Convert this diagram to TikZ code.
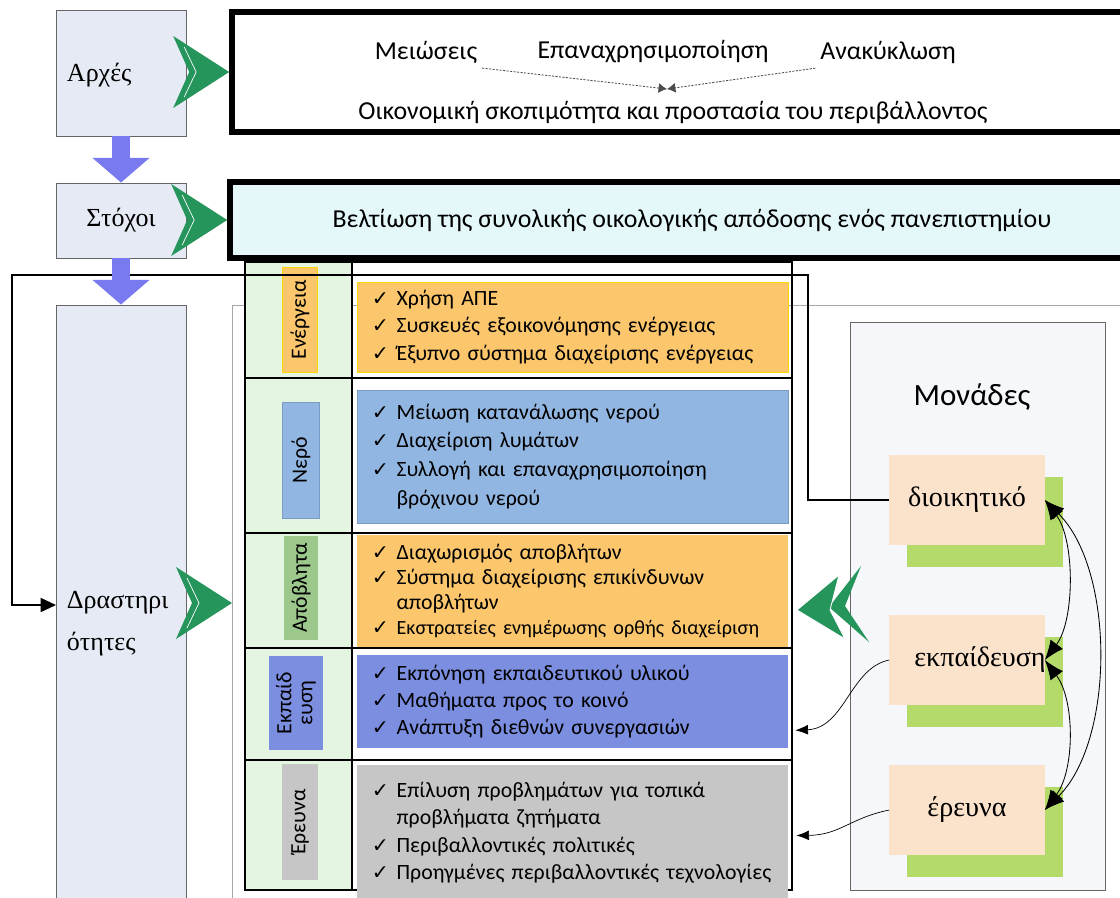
\documentclass[tikz,border=0pt]{standalone}
\usepackage{fontspec}
\setmainfont{Carlito}
\newfontfamily\stagefont{Liberation Serif}
\newfontfamily\symfont{DejaVu Sans}
\usetikzlibrary{arrows.meta}
\usetikzlibrary{calc}
\usetikzlibrary{fit}
\usetikzlibrary{positioning}
\usetikzlibrary{shadows}

\definecolor{StageFill}{HTML}{E6EAF5}
\definecolor{GoalFill}{HTML}{E4F8FA}
\definecolor{ColGreen}{HTML}{E4F6E2}
\definecolor{CellOrange}{HTML}{FBC66C}
\definecolor{CellBlue}{HTML}{92B6E2}
\definecolor{CellViolet}{HTML}{7C8EE0}
\definecolor{CellGray}{HTML}{C6C6C6}
\definecolor{LabGreen}{HTML}{9CC98B}
\definecolor{UnitPeach}{HTML}{FBE2CB}
\definecolor{UnitLime}{HTML}{B4DA6A}
\definecolor{UnitsFill}{HTML}{F5F7FA}
\definecolor{FlowBlue}{HTML}{7A7AF0}
\definecolor{ChevGreen}{HTML}{25955C}

\newcommand{\chk}{{\symfont\fontsize{14.5}{14}\selectfont ✓}\hspace{0.35em}}
\newcommand{\chkgap}{\phantom{\chk}}

% green chevron pointing right, tip at #1
\newcommand{\chevright}[1]{%
	\fill[ChevGreen] ($#1+(-56,-36)$) -- #1 -- ($#1+(-56,36)$) -- ($#1+(-40,0)$) -- cycle;
	\draw[white,line width=0.5pt] ($#1+(-45,-25)$) -- ($#1+(-33,0)$) -- ($#1+(-45,25)$);}
% two green chevrons pointing left, tip at #1
\newcommand{\chevleft}[1]{%
	\fill[ChevGreen] ($#1+(64,-44)$) -- ($#1+(32,-3)$) -- ($#1+(72,32)$) -- ($#1+(48,-4)$) -- cycle;
	\filldraw[ChevGreen,draw=white,line width=0.6pt] ($#1+(42,-35)$) -- #1 -- ($#1+(48,29)$) -- ($#1+(33,0)$) -- cycle;}

\begin{document}
\begin{tikzpicture}[x=0.025cm,y=-0.025cm,
	stage/.style={draw=gray!80!black,line width=0.6pt,fill=StageFill,inner sep=0pt},
	stagetext/.style={font=\stagefont\fontsize{18.5}{30}\selectfont,align=left},
	bigbox/.style={draw=black,line width=4pt,inner sep=0pt},
	toptext/.style={font=\fontsize{18.4}{20}\selectfont},
	flow/.style={FlowBlue,line width=0.45cm,-{Triangle[width=1.4cm,length=0.62cm]}},
	tabline/.style={black,line width=0.8pt},
	lab/.style={rotate=90,inner sep=0pt,font=\fontsize{15.5}{15}\selectfont,align=center},
	cell/.style={minimum width=10.775cm,inner xsep=0.375cm,text width=10.025cm,align=left,
		font=\fontsize{15.5}{19.5}\selectfont},
	unitsbox/.style={draw=gray!80!black,line width=0.6pt,fill=UnitsFill,inner sep=0pt},
	unit/.style={fill=UnitPeach,minimum width=3.875cm,minimum height=2.25cm,
		font=\stagefont\fontsize{20}{22}\selectfont,
		drop shadow={fill=UnitLime,opacity=1,shadow xshift=0.45cm,shadow yshift=-0.55cm}},
	dotlink/.style={gray!60!black,dash pattern=on 1.5pt off 1pt,line width=0.6pt,-{Latex[length=6pt,width=7pt]}},
	link/.style={line width=1.3pt,-{Triangle[length=11pt,width=10pt]}},
	unitlink/.style={line width=0.5pt,-{Latex[length=9pt,width=7pt]}},
	pairlink/.style={line width=0.6pt,{Latex[length=14pt,width=11pt]}-{Latex[length=14pt,width=11pt]}}]
	\useasboundingbox (0,0) rectangle (1120,897);
	\clip (0,0) rectangle (1120,897);
	
	\draw[gray!70,line width=0.6pt] (232,305) rectangle (1140,920);
	
	% stages
	\node[stage,fit={(56,10) (186,136)}] (arxes) {};
	\node[stagetext,anchor=west] (arxesT) at (62,75) {Αρχές};
	\node[stage,fit={(56,183) (186,258)}] (stoxoi) {};
	\node[stagetext] (stoxoiT) at (stoxoi) {Στόχοι};
	\node[stage,fit={(56,305) (186,920)}] (drast) {};
	\node[stagetext,anchor=north west] (drastT) at (62,586) {Δραστηρι\\ότητες};
	
	% table of activities
	\fill[ColGreen] (245,262) rectangle (352,890);
	\draw[tabline] (245,262) rectangle (792,890);
	\draw[tabline] (352,262) -- (352,890);
	\foreach \yy in {378,533,648,760} \draw[tabline] (245,\yy) -- (792,\yy);
	
	\node[lab,fill=CellOrange,draw=yellow!75!orange,minimum width=2.625cm,minimum height=0.875cm] (eneL) at (300,320) {Ενέργεια};
	\node[lab,fill=CellBlue,draw=CellBlue!85!black,minimum width=2.9cm,minimum height=0.925cm] (neroL) at (301,460) {Νερό};
	\node[lab,fill=LabGreen,minimum width=2.575cm,minimum height=0.825cm] (apoL) at (301,588) {Απόβλητα};
	\node[lab,fill=CellViolet,minimum width=2.325cm,minimum height=1.325cm] (ekpL) at (296,703) {Εκπαίδ\\ευση};
	\node[lab,fill=CellGray,minimum width=2.875cm,minimum height=0.875cm] (erL) at (300,822) {Έρευνα};
	
	\node[cell,fill=CellOrange,draw=yellow!75!orange,minimum height=2.25cm] (eneC) at (572.5,327)
		{\chk Χρήση ΑΠΕ\\\chk Συσκευές εξοικονόμησης ενέργειας\\\chk Έξυπνο σύστημα διαχείρισης ενέργειας};
	\node[cell,fill=CellBlue,draw=CellBlue!85!black,minimum height=3.325cm,font=\fontsize{15.5}{20.5}\selectfont] (neroC) at (572.5,456.5)
		{\chk Μείωση κατανάλωσης νερού\\\chk Διαχείριση λυμάτων\\\chk Συλλογή και επαναχρησιμοποίηση\\\chkgap βρόχινου νερού};
	\node[cell,fill=CellOrange,minimum height=2.8cm,font=\fontsize{15.5}{18}\selectfont] (apoC) at (572.5,591)
		{\chk Διαχωρισμός αποβλήτων\\\chk Σύστημα διαχείρισης επικίνδυνων\\\chkgap αποβλήτων\\\mbox{\chk{\fontsize{14.3}{18}\selectfont Εκστρατείες ενημέρωσης ορθής διαχείριση}}};
	\node[cell,fill=CellViolet,minimum height=2.325cm] (ekpC) at (572.5,701.5)
		{\chk Εκπόνηση εκπαιδευτικού υλικού\\\chk Μαθήματα προς το κοινό\\\chk Ανάπτυξη διεθνών συνεργασιών};
	\node[cell,fill=CellGray,minimum height=3.375cm] (erC) at (572.5,832.5)
		{\chk Επίλυση προβλημάτων για τοπικά\\\chkgap προβλήματα ζητήματα\\\chk Περιβαλλοντικές πολιτικές\\\mbox{\chk Προηγμένες περιβαλλοντικές τεχνολογίες}};
	
	% units
	\node[unitsbox,fit={(850,322) (1105,890)}] (units) {};
	\node[font=\fontsize{22}{24}\selectfont] (unitsT) at (972,397) {Μονάδες};
	\node[unit] (dioik) at (967,500) {διοικητικό};
	\node[unit] (ekpaid) at (967,660) {\makebox[0pt]{\hspace{0.65cm}εκπαίδευση}};
	\node[unit] (ereuna) at (967,810) {έρευνα};
	
	% principles and goal
	\node[bigbox,fill=white,fit={(232,12) (1135,132)}] (arxbox) {};
	\node[toptext] (meiwseis) at (426,52) {Μειώσεις};
	\node[toptext] (epanax) at (653,52) {Επαναχρησιμοποίηση};
	\node[toptext] (anakykl) at (888,52) {Ανακύκλωση};
	\node[toptext] (oikon) at (673,113) {Οικονομική σκοπιμότητα και προστασία του περιβάλλοντος};
	\coordinate (meet) at (667,89);
	\draw[dotlink] (meiwseis.south east) -- (meet);
	\draw[dotlink] (anakykl.south west) -- (meet);
	
	\node[bigbox,fill=GoalFill,fit={(230,182) (1135,258)}] (goal) {};
	\node[toptext] (goalT) at (692,220) {Βελτίωση της συνολικής οικολογικής απόδοσης ενός πανεπιστημίου};
	
	% connectors
	\coordinate (drastIn) at (56,605);
	\draw[link] (dioik.west) -| (808,275) -| (12,605) -- (drastIn);
	\draw[unitlink] (ekpaid.west) .. controls (850,668) and (845,728) .. ($(ekpC.south east)+(7,-18)$);
	\draw[unitlink] (ereuna.west) .. controls (850,818) and (840,835) .. ($(erC.east)+(8,3)$);
	\draw[pairlink] (dioik.east) .. controls (1075,540) and (1075,620) .. (ekpaid.east);
	\draw[pairlink] (ekpaid.east) .. controls (1075,700) and (1075,770) .. (ereuna.east);
	\draw[pairlink] (dioik.east) .. controls (1115,570) and (1115,740) .. (ereuna.east);
	
	\draw[flow] (arxes.south) -- (stoxoi.north);
	\draw[flow] (stoxoi.south) -- (drast.north);
	
	\chevright{(arxbox.west)}
	\chevright{(goal.west)}
	\coordinate (drastOut) at (232,603);
	\chevright{(drastOut)}
	\coordinate (unitsIn) at (797,610);
	\chevleft{(unitsIn)}
\end{tikzpicture}
\end{document}
